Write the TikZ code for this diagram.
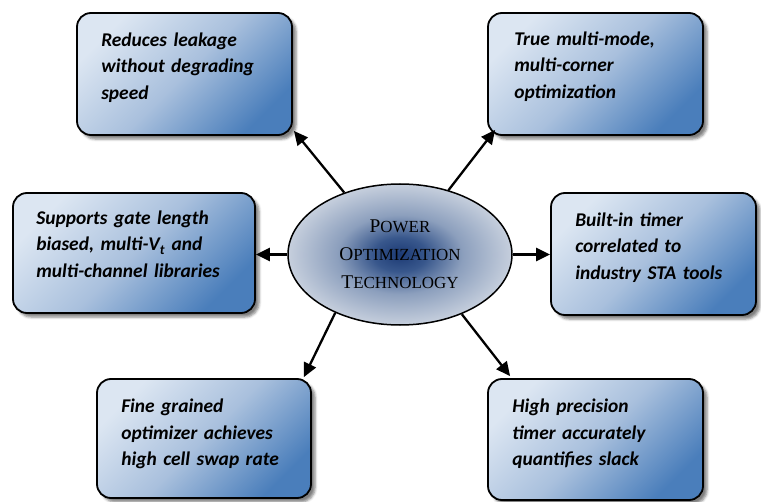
\documentclass[tikz,border=0pt]{standalone}
\usepackage{fontspec}
\newfontfamily\calib{Carlito}
\newfontfamily\ellfont{Liberation Serif}
\usetikzlibrary{arrows.meta,shadows.blur,calc,shapes.geometric}
\definecolor{boxlight}{HTML}{DCE6F2}
\definecolor{boxmid}{HTML}{A9C0DD}
\definecolor{boxdark}{HTML}{4A7EBB}
\definecolor{ecA}{HTML}{1C3A74}
\definecolor{ecB}{HTML}{38578C}
\definecolor{ecC}{HTML}{8C9FBD}
\definecolor{ecD}{HTML}{C6CFDD}
\definecolor{ecE}{HTML}{D4DBE6}
\pgfdeclareradialshading{ellshade}{\pgfpoint{0bp}{0bp}}{color(0bp)=(ecA); color(6bp)=(ecB); color(14bp)=(ecC); color(25bp)=(ecD); color(50bp)=(ecE)}
\tikzset{
  infobox/.style={draw=black, line width=1.8bp, rounded corners=14bp, inner sep=0,
    top color=boxlight, bottom color=boxdark, middle color=boxmid, shading angle=45,
    blur shadow={shadow xshift=4bp, shadow yshift=-4bp, shadow blur radius=2.5bp, shadow opacity=50}},
  txt/.style={anchor=base west, align=left, text width=210bp, inner sep=0,
    font=\calib\bfseries\itshape\fontsize{19.5}{27}\selectfont},
  conn/.style={line width=2.3bp, -{Triangle[length=14bp,width=13bp]}}
}
\newcommand{\bigL}[1]{{\fontsize{19.5}{28}\selectfont #1}}
\begin{document}
\begin{tikzpicture}[x=1bp,y=-1bp]
\useasboundingbox (0,0) rectangle (761,502);
\node[infobox, minimum width=215bp, minimum height=122bp] (b1) at (184.5,74) {};
\node[infobox, minimum width=215bp, minimum height=122bp] (b2) at (595.5,74) {};
\node[infobox, minimum width=242bp, minimum height=120bp] (b3) at (134,253) {};
\node[infobox, minimum width=205bp, minimum height=122bp] (b4) at (653.5,254) {};
\node[infobox, minimum width=214bp, minimum height=119bp] (b5) at (204,438.5) {};
\node[infobox, minimum width=215bp, minimum height=121bp] (b6) at (595.5,439.5) {};

\node[txt] (t1) at ($(b1.north west)+(25,34)$) {Reduces leakage\\without degrading\\speed};
\node[txt] (t2) at ($(b2.north west)+(27,33)$) {True multi-mode,\\multi-corner\\optimization};
\node[txt] (t3) at ($(b3.north west)+(24,32)$) {Supports gate length\\biased, multi-\textit{V}\textsubscript{t} and\\multi-channel libraries};
\node[txt] (t4) at ($(b4.north west)+(25,34)$) {Built-in timer\\correlated to\\industry STA tools};
\node[txt] (t5) at ($(b5.north west)+(25,34)$) {Fine grained\\optimizer achieves\\high cell swap rate};
\node[txt] (t6) at ($(b6.north west)+(25,34)$) {High precision\\timer accurately\\quantifies slack};

\node[ellipse, draw=black, line width=1.5bp, minimum width=224bp, minimum height=141bp, inner sep=0,
  shading=ellshade, align=center, text=black,
  font=\ellfont\fontsize{17}{28}\selectfont] (e) at (400,254.5)
  {\bigL{P}OWER\\\bigL{O}PTIMIZATION\\\bigL{T}ECHNOLOGY};

\draw[conn] (e.132.6) -- ($(b1.south east)+(1,-5)$);
\draw[conn] (e.53.7) -- ($(b2.south west)+(8,-6)$);
\draw[conn] (e.west) -- (e.west -| b3.east);
\draw[conn] (e.east) -- (e.east -| b4.west);
\draw[conn] (e.222.7) -- ($(b5.north east)+(-8,-1)$);
\draw[conn] (e.-44) -- ($(b6.north west)+(23,-2)$);
\end{tikzpicture}
\end{document}
